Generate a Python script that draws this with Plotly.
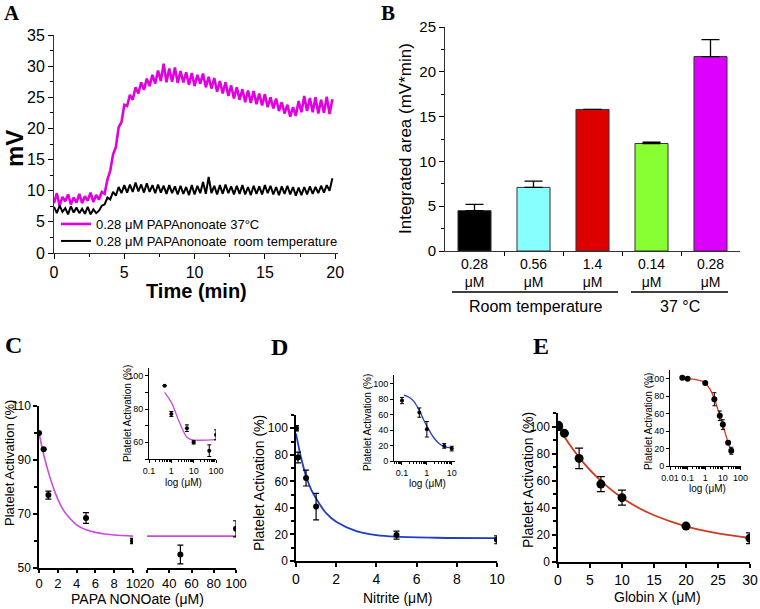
import numpy as np
import plotly.graph_objects as go

W, H = 760, 609
FONT = "Liberation Sans, Arial, sans-serif"
SERIF = "Liberation Serif, Times New Roman, serif"

# ---- A: aggregometer traces (mV), one reading every 0.2 min from t = 0
T_STEP = 0.2
MV_37C = [8.0, 9.6, 7.6, 9.0, 8.3, 9.4, 7.8, 8.9, 8.1, 9.5, 8.0, 9.1, 8.4, 9.7, 8.2, 9.3, 8.6,
          9.8, 9.5, 11.8, 13.2, 15.8, 17.0, 20.2, 21.0, 23.8, 23.6, 25.4, 24.6, 26.6, 25.6, 27.4, 26.2,
          28.0, 26.8, 28.6, 27.2, 29.3, 27.6, 30.4, 27.4, 29.6, 27.5, 29.8, 27.3, 29.2, 27.4, 29.0, 27.0,
          28.9, 26.8, 28.6, 27.2, 28.8, 26.6, 28.3, 26.4, 28.1, 25.9, 27.6, 25.6, 27.4, 25.2, 26.9, 24.8,
          26.6, 24.6, 26.3, 24.2, 26.1, 24.1, 26.0, 23.9, 25.6, 23.7, 25.5, 23.4, 25.0, 23.2, 24.8, 22.8,
          24.2, 22.4, 23.8, 21.9, 23.4, 22.0, 24.4, 22.6, 25.2, 22.8, 24.9, 22.6, 25.0, 22.4, 24.6, 22.5,
          25.1, 22.3, 24.7]
MV_RT = [7.4, 6.4, 7.6, 6.6, 7.2, 6.2, 7.5, 6.5, 7.3, 6.4, 7.1, 6.3, 7.4, 6.2, 7.0, 6.4, 6.8,
         7.6, 7.8, 8.9, 8.6, 9.8, 9.2, 10.6, 9.6, 10.9, 9.7, 11.0, 9.8, 11.3, 9.9, 11.0, 9.7,
         11.2, 9.8, 10.9, 9.6, 11.0, 9.7, 10.8, 9.5, 10.9, 9.6, 10.7, 9.4, 10.8, 9.5, 10.6, 9.3,
         10.9, 9.4, 10.8, 9.6, 11.4, 9.5, 12.2, 9.6, 10.8, 9.4, 10.9, 9.5, 11.0, 9.6, 10.7, 9.4,
         10.8, 9.5, 10.9, 9.4, 10.6, 9.3, 10.8, 9.5, 10.7, 9.4, 10.9, 9.6, 10.8, 9.4, 10.6, 9.3,
         10.7, 9.5, 10.8, 9.4, 10.6, 9.2, 10.5, 9.3, 10.6, 9.4, 10.7, 9.5, 10.6, 9.6, 10.8, 9.7,
         10.9, 10.0, 12.0]

# ---- B: integrated area
B_LABELS = ["0.28<br>μM", "0.56<br>μM", "1.4<br>μM", "0.14<br>μM", "0.28<br>μM"]
B_AREA = [4.5, 7.1, 15.8, 12.0, 21.7]
B_ERR = [0.7, 0.7, 0.0, 0.15, 1.9]
B_COLORS = ["#000000", "#88ffff", "#dd0000", "#88ff33", "#dd00ff"]

# ---- C: PAPA NONOate
C_X = [0, 0.5, 1, 5, 10, 50, 100]
C_Y = [100, 94, 77, 68.5, 60, 55, 64.5]
C_ERR = [0, 0, 1.5, 2, 1, 3.5, 3]
C_FIT_X = [0, 0.5, 1, 1.5, 2, 2.5, 3, 4, 5, 6, 7, 8, 10]
C_FIT_Y = [100, 92, 85.5, 80, 75.5, 72, 69.5, 66, 64.2, 63.2, 62.6, 62.2, 61.8]
C_FIT_R_X = [20, 100]
C_FIT_R_Y = [61.8, 61.8]
CI_FIT_X = [0.5, 1, 2, 3, 5, 8, 100]
CI_FIT_Y = [90, 84, 74, 68.5, 63, 61.6, 61.6]

# ---- D: nitrite
D_X = [0, 0.1, 0.5, 1, 5, 10]
D_Y = [100, 78, 62.5, 41, 19.5, 16]
D_ERR = [2, 4, 6, 10, 3, 3]
D_FIT_X = [0, 0.25, 0.5, 0.75, 1, 1.5, 2, 3, 4, 5, 7, 10]
D_FIT_Y = [96, 78, 64, 54, 47, 36, 29.5, 22.5, 19.5, 18.3, 17.5, 17.2]
DI_FIT_X = [0.12, 0.2, 0.3, 0.5, 0.7, 1, 1.5, 2, 3, 5, 10]
DI_FIT_Y = [85, 82, 77, 65, 55, 45, 35, 29, 23, 18.5, 17]

# ---- E: globin X
E_X = [0.05, 0.1, 1, 3.3, 6.7, 10, 20, 30]
E_Y = [101, 100, 95, 76.5, 57.5, 47.5, 26.5, 17.5]
E_ERR = [0, 1, 0.5, 7.5, 5.5, 5.5, 1, 4]
E_FIT_X = [0, 2, 4, 6, 8, 10, 12, 15, 20, 25, 30]
E_FIT_Y = [100, 85.4, 73.2, 63.0, 54.5, 47.4, 41.5, 34.5, 26.3, 21.1, 17.7]
EI_FIT_X = [0.05, 0.1, 0.3, 0.6, 1, 2, 3.3, 5, 6.7, 10, 15, 20, 30]
EI_FIT_Y = [100.5, 100, 99, 97.5, 95, 87, 77, 66, 58, 47, 35, 26.5, 17]


def xd(a, b):
    return [a / W, b / W]


def yd(top, bottom):
    return [1 - bottom / H, 1 - top / H]


def axis(size=14, lw=1.3, **kw):
    d = dict(showline=True, linecolor="black", linewidth=lw, ticks="outside",
             tickcolor="black", tickwidth=lw, showgrid=False, zeroline=False, automargin=False,
             tickfont=dict(family=FONT, size=size, color="black"))
    d.update(kw)
    return d


def err(arr, w=3, t=1.2):
    return dict(type="data", array=arr, visible=True, color="black", thickness=t, width=w)


fig = go.Figure()

# A
tA = np.arange(len(MV_37C)) * T_STEP
fig.add_trace(go.Scatter(x=tA, y=MV_37C, mode="lines", line=dict(color="#e000e0", width=2.6),
                         name="0.28 μM PAPAnonoate 37°C", legend="legend", xaxis="x", yaxis="y"))
fig.add_trace(go.Scatter(x=tA, y=MV_RT, mode="lines", line=dict(color="black", width=2),
                         name="0.28 μM PAPAnonoate \u00a0room temperature", legend="legend2",
                         xaxis="x", yaxis="y"))

# B
fig.add_trace(go.Bar(x=list(range(len(B_AREA))), y=B_AREA, width=0.56,
                     marker=dict(color=B_COLORS, line=dict(color="#333333", width=1)),
                     error_y=dict(type="data", array=B_ERR, arrayminus=[0] * len(B_ERR),
                                  symmetric=False, color="black", thickness=1.3, width=9),
                     showlegend=False, xaxis="x2", yaxis="y2"))

# C main
cl = [i for i, v in enumerate(C_X) if v <= 10]
cr = [i for i, v in enumerate(C_X) if v >= 20]
fig.add_trace(go.Scatter(x=C_FIT_X, y=C_FIT_Y, mode="lines", line=dict(color="#c84be0", width=1.6, shape="spline"),
                         showlegend=False, xaxis="x3", yaxis="y3"))
fig.add_trace(go.Scatter(x=[C_X[i] for i in cl], y=[C_Y[i] for i in cl], mode="markers",
                         marker=dict(color="black", size=6), error_y=err([C_ERR[i] for i in cl]),
                         showlegend=False, xaxis="x3", yaxis="y3"))
fig.add_trace(go.Scatter(x=C_FIT_R_X, y=C_FIT_R_Y, mode="lines", line=dict(color="#c84be0", width=1.6),
                         showlegend=False, xaxis="x4", yaxis="y3"))
fig.add_trace(go.Scatter(x=[C_X[i] for i in cr], y=[C_Y[i] for i in cr], mode="markers",
                         marker=dict(color="black", size=6), error_y=err([C_ERR[i] for i in cr]),
                         showlegend=False, xaxis="x4", yaxis="y3"))
# C inset
fig.add_trace(go.Scatter(x=CI_FIT_X, y=CI_FIT_Y, mode="lines", line=dict(color="#c84be0", width=1.3, shape="spline"),
                         showlegend=False, xaxis="x5", yaxis="y5"))
fig.add_trace(go.Scatter(x=C_X[1:], y=C_Y[1:], mode="markers", marker=dict(color="black", size=4),
                         error_y=err(C_ERR[1:], w=2, t=1), showlegend=False, xaxis="x5", yaxis="y5"))

# D
fig.add_trace(go.Scatter(x=D_FIT_X, y=D_FIT_Y, mode="lines", line=dict(color="#1f3fc4", width=1.8, shape="spline"),
                         showlegend=False, xaxis="x6", yaxis="y6"))
fig.add_trace(go.Scatter(x=D_X, y=D_Y, mode="markers", marker=dict(color="black", size=6),
                         error_y=err(D_ERR), showlegend=False, xaxis="x6", yaxis="y6"))
fig.add_trace(go.Scatter(x=DI_FIT_X, y=DI_FIT_Y, mode="lines", line=dict(color="#1f3fc4", width=1.3, shape="spline"),
                         showlegend=False, xaxis="x7", yaxis="y7"))
fig.add_trace(go.Scatter(x=D_X[1:], y=D_Y[1:], mode="markers", marker=dict(color="black", size=4),
                         error_y=err(D_ERR[1:], w=2, t=1), showlegend=False, xaxis="x7", yaxis="y7"))

# E
fig.add_trace(go.Scatter(x=E_FIT_X, y=E_FIT_Y, mode="lines", line=dict(color="#d4381c", width=1.8, shape="spline"),
                         showlegend=False, xaxis="x8", yaxis="y8"))
fig.add_trace(go.Scatter(x=E_X, y=E_Y, mode="markers", marker=dict(color="black", size=9),
                         error_y=err(E_ERR, w=4), showlegend=False, xaxis="x8", yaxis="y8"))
fig.add_trace(go.Scatter(x=EI_FIT_X, y=EI_FIT_Y, mode="lines", line=dict(color="#d4381c", width=1.3, shape="spline"),
                         showlegend=False, xaxis="x9", yaxis="y9"))
fig.add_trace(go.Scatter(x=E_X, y=E_Y, mode="markers", marker=dict(color="black", size=6),
                         error_y=err(E_ERR, w=2, t=1), showlegend=False, xaxis="x9", yaxis="y9"))

minor5 = dict(ticks="outside", ticklen=3, dtick=2.5, tickcolor="black")
minor10 = dict(ticks="outside", ticklen=3, dtick=10, tickcolor="black")
minlog = dict(ticks="outside", ticklen=2, tickcolor="black")
leg = dict(xanchor="left", yanchor="middle", bgcolor="rgba(0,0,0,0)",
           font=dict(family=FONT, size=13, color="black"), itemwidth=30)

fig.update_layout(
    width=W, height=H, margin=dict(l=0, r=0, t=0, b=0, pad=0, autoexpand=False),
    paper_bgcolor="white", plot_bgcolor="rgba(0,0,0,0)",
    showlegend=True,
    legend=dict(leg, x=56 / W, y=1 - 224 / H),
    legend2=dict(leg, x=56 / W, y=1 - 241 / H),
    # A
    xaxis=axis(16, 1, domain=xd(54, 338), range=[0, 20.2], dtick=5, anchor="y", linecolor="#333",
               minor=minor5, ticklen=5),
    yaxis=axis(16, 1, domain=yd(35, 253), range=[0, 35], dtick=5, anchor="x", linecolor="#333",
               minor=minor5, ticklen=5),
    # B
    xaxis2=axis(14, 1, domain=xd(445, 740), range=[-0.5, 4.5], anchor="y2", tickvals=list(range(5)),
                ticktext=B_LABELS, ticks="", linecolor="#333",
                minor=dict(tickvals=[0.5, 1.5, 2.5, 3.5], ticks="outside", ticklen=4, tickcolor="black")),
    yaxis2=axis(15, 1, domain=yd(27, 251), range=[0, 25], dtick=5, anchor="x2", linecolor="#333",
                minor=minor5, ticklen=5),
    # C
    xaxis3=axis(13, 1.5, domain=xd(39, 133), range=[0, 10], dtick=2, anchor="y3", ticklen=3),
    xaxis4=axis(13, 1.5, domain=xd(147, 236), range=[20, 100], dtick=20, anchor="y3", ticklen=3),
    yaxis3=axis(12, 1.5, domain=yd(406, 568), range=[50, 110], tickvals=[50, 70, 90, 110], anchor="x3",
                minor=minor10, ticklen=4),
    xaxis5=axis(9, 1, type="log", domain=xd(149, 216), range=[-1, 2], dtick=1, anchor="y5", ticklen=3,
                minor=minlog),
    yaxis5=axis(9, 1, domain=yd(368, 459), range=[50, 104.6], tickvals=[60, 80, 100], anchor="x5", ticklen=3,
                minor=minor10),
    # D
    xaxis6=axis(14, 1.5, domain=xd(296, 497), range=[0, 10], dtick=2, anchor="y6", ticklen=4),
    yaxis6=axis(12, 1.5, domain=yd(415, 561), range=[0, 110], dtick=20, anchor="x6", ticklen=4,
                minor=minor10),
    xaxis7=axis(9, 1, type="log", domain=xd(394, 455), range=[-1.32, 1.13], dtick=1, anchor="y7", ticklen=3,
                minor=minlog),
    yaxis7=axis(9, 1, domain=yd(375, 461), range=[0, 111], dtick=20, anchor="x7", ticklen=3),
    # E
    xaxis8=axis(14, 1.5, domain=xd(558, 750), range=[0, 30], dtick=5, anchor="y8", ticklen=4),
    yaxis8=axis(12, 1.5, domain=yd(413, 562), range=[0, 110], dtick=20, anchor="x8", ticklen=4,
                minor=minor10),
    xaxis9=axis(9, 1, type="log", domain=xd(670, 741), range=[-2, 2.03], dtick=1, anchor="y9", ticklen=3,
                minor=minlog),
    yaxis9=axis(9, 1, domain=yd(370, 466), range=[0, 110], dtick=20, anchor="x9", ticklen=3),
)


def note(text, x, y, size=14, angle=0, bold=False, family=FONT):
    if bold:
        text = "<b>" + text + "</b>"
    fig.add_annotation(text=text, x=x / W, y=1 - y / H, xref="paper", yref="paper", showarrow=False,
                       textangle=angle, xanchor="center", yanchor="middle",
                       font=dict(family=family, size=size, color="black"))


# panel letters
note("A", 12, 13, 21, bold=True, family=SERIF)
note("B", 388, 13, 21, bold=True, family=SERIF)
note("C", 14, 345, 24, bold=True, family=SERIF)
note("D", 279, 347, 24, bold=True, family=SERIF)
note("E", 541, 346, 24, bold=True, family=SERIF)

# axis titles
note("mV", 14, 148, 24, angle=-90, bold=True)
note("Time (min)", 196, 291, 20, bold=True)
note("Integrated area (mV*min)", 405, 139, 17, angle=-90)
note("Room temperature", 535, 306, 16)
note("37 °C", 680, 306, 16)
fig.add_shape(type="line", xref="paper", yref="paper", x0=452 / W, x1=618 / W, y0=1 - 292 / H, y1=1 - 292 / H,
              line=dict(color="black", width=1.5))
fig.add_shape(type="line", xref="paper", yref="paper", x0=631 / W, x1=728 / W, y0=1 - 292 / H, y1=1 - 292 / H,
              line=dict(color="black", width=1.5))

note("Platelet Activation (%)", 9, 463, 13, angle=-90)
note("PAPA NONOate (μM)", 137, 599, 14)
note("Platelet Activation (%)", 128, 414, 10, angle=-90)
note("log (μM)", 183, 482, 10)

note("Platelet Activation (%)", 259, 483, 14, angle=-90)
note("Nitrite (μM)", 398, 598, 14)
note("Platelet Activation (%)", 367, 423, 10, angle=-90)
note("log (μM)", 427, 483, 10)

note("Platelet Activation (%)", 528, 480, 14, angle=-90)
note("Globin X (μM)", 657, 597, 14)
note("Platelet Activation (%)", 648, 422, 10, angle=-90)
note("log (μM)", 707, 488, 10)

fig.write_html("out.html", config={"displayModeBar": False},
               post_script="document.body.style.margin='0';")
